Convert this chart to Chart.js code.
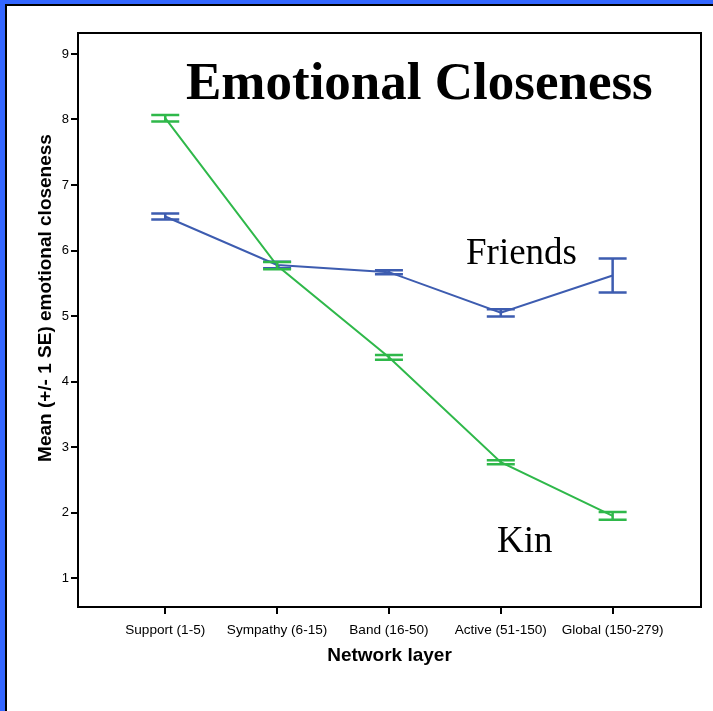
<!DOCTYPE html>
<html>
<head>
<meta charset="utf-8">
<script src="https://cdn.jsdelivr.net/npm/chart.js@4"></script>
<style>
  html, body { margin: 0; padding: 0; width: 713px; height: 711px; overflow: hidden; background: #3366ff; }
  #panel { position: absolute; left: 5px; top: 4px; width: 720px; height: 720px; background: #fff; border-left: 2px solid #000; border-top: 2px solid #000; }
  #chart { position: absolute; left: 0; top: 0; }
</style>
</head>
<body>
<div id="panel"></div>
<canvas id="chart" width="713" height="711"></canvas>
<script>
// Network layers (x axis)
const layers = ['Support (1-5)', 'Sympathy (6-15)', 'Band (16-50)', 'Active (51-150)', 'Global (150-279)'];

// Mean emotional closeness and +/- 1 SE
const friendsMean = [6.52, 5.78, 5.67, 5.05, 5.62];
const friendsSE = [0.045, 0.05, 0.03, 0.055, 0.26];
const kinMean = [8.02, 5.77, 4.37, 2.77, 1.95];
const kinSE = [0.05, 0.055, 0.035, 0.03, 0.06];

const yTicks = [1, 2, 3, 4, 5, 6, 7, 8, 9];

const blue = '#3d5cb0';
const green = '#2fb84a';
const sans = '"Liberation Sans", Arial, sans-serif';
const serif = '"Liberation Serif", "Times New Roman", serif';

function toPoints(means) {
    return means.map((v, i) => ({ x: i, y: v }));
}

// error bars with caps, drawn through the chart scales
const errorBars = {
    id: 'errorBars',
    afterDatasetsDraw(chart) {
        const ctx = chart.ctx;
        const xs = chart.scales.x, ys = chart.scales.y;
        const sets = [[friendsMean, friendsSE, blue], [kinMean, kinSE, green]];
        ctx.save();
        ctx.lineWidth = 2.5;
        sets.forEach(([m, se, col]) => {
            ctx.strokeStyle = col;
            m.forEach((v, i) => {
                const x = xs.getPixelForValue(i);
                const top = ys.getPixelForValue(v + se[i]);
                const bot = ys.getPixelForValue(v - se[i]);
                ctx.beginPath();
                ctx.moveTo(x, top); ctx.lineTo(x, bot);
                ctx.moveTo(x - 14, top); ctx.lineTo(x + 14, top);
                ctx.moveTo(x - 14, bot); ctx.lineTo(x + 14, bot);
                ctx.stroke();
            });
        });
        ctx.restore();
    }
};

// frame around the plot, y title and the text labels
const extras = {
    id: 'extras',
    beforeDatasetsDraw(chart) {
        const a = chart.chartArea, ctx = chart.ctx;
        ctx.save();
        ctx.strokeStyle = '#000';
        ctx.lineWidth = 2;
        ctx.strokeRect(a.left, a.top, a.right - a.left, a.bottom - a.top);
        ctx.restore();
    },
    afterDraw(chart) {
        const ctx = chart.ctx;
        ctx.save();
        ctx.fillStyle = '#000';
        // y axis title sits a bit above the middle of the axis
        ctx.save();
        ctx.translate(46, 298);
        ctx.rotate(-Math.PI / 2);
        ctx.textAlign = 'center';
        ctx.textBaseline = 'middle';
        ctx.font = 'bold 19px ' + sans;
        ctx.fillText('Mean (+/- 1 SE) emotional closeness', 0, 0);
        ctx.restore();

        ctx.textBaseline = 'alphabetic';
        ctx.textAlign = 'left';
        ctx.font = 'bold 53px ' + serif;
        ctx.fillText('Emotional Closeness', 186, 99);
        ctx.font = '37px ' + serif;
        ctx.fillText('Friends', 466, 264);
        ctx.fillText('Kin', 497, 552);
        ctx.restore();
    }
};

new Chart(document.getElementById('chart'), {
    type: 'line',
    data: {
        datasets: [
            {
                label: 'Friends',
                data: toPoints(friendsMean),
                borderColor: blue,
                borderWidth: 2,
                pointRadius: 0,
                tension: 0
            },
            {
                label: 'Kin',
                data: toPoints(kinMean),
                borderColor: green,
                borderWidth: 2,
                pointRadius: 0,
                tension: 0
            }
        ]
    },
    options: {
        responsive: false,
        animation: false,
        layout: { padding: { left: 34, top: 33, right: 12, bottom: 40 } },
        plugins: { legend: { display: false }, tooltip: { enabled: false } },
        scales: {
            x: {
                type: 'linear',
                min: -0.78,
                max: 4.79,
                afterBuildTicks(scale) { scale.ticks = layers.map((_, i) => ({ value: i })); },
                afterFit(scale) { scale.height = 64; },
                ticks: {
                    color: '#000',
                    font: { family: sans, size: 13.6 },
                    padding: 8,
                    maxRotation: 0,
                    autoSkip: false,
                    callback: (v) => layers[v]
                },
                grid: { drawOnChartArea: false, drawTicks: true, tickLength: 7, color: '#000', lineWidth: 2 },
                border: { color: '#000', width: 2 },
                title: {
                    display: true,
                    text: 'Network layer',
                    color: '#000',
                    font: { family: sans, size: 19, weight: 'bold' },
                    padding: { top: 2 }
                }
            },
            y: {
                min: 0.56,
                max: 9.32,
                afterBuildTicks(scale) { scale.ticks = yTicks.map(v => ({ value: v })); },
                afterFit(scale) { scale.width = 44; },
                ticks: {
                    color: '#000',
                    font: { family: sans, size: 13 },
                    padding: 2
                },
                grid: { drawOnChartArea: false, drawTicks: true, tickLength: 7, color: '#000', lineWidth: 2 },
                border: { color: '#000', width: 2 },
                title: { display: false }
            }
        }
    },
    plugins: [errorBars, extras]
});
</script>
</body>
</html>
